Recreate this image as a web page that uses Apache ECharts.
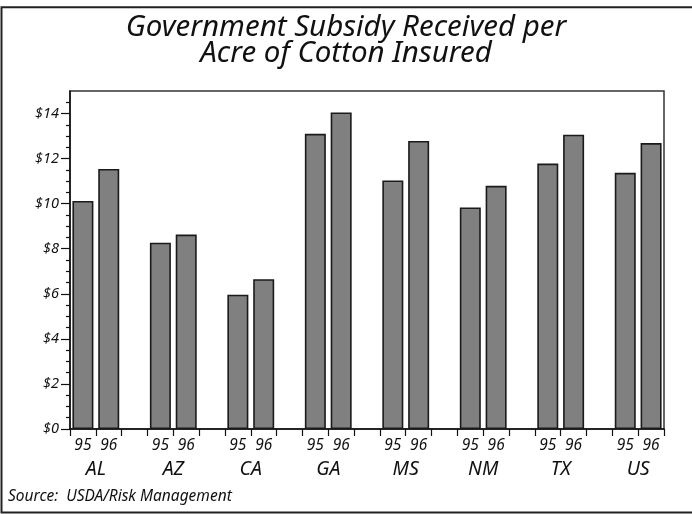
<!DOCTYPE html>
<html>
<head>
<meta charset="utf-8">
<title>Government Subsidy Received per Acre of Cotton Insured</title>
<script src="https://cdn.jsdelivr.net/npm/echarts@6/dist/echarts.min.js"></script>
<style>
  html, body { margin: 0; padding: 0; background: #fff; }
  #chart { width: 692px; height: 514px; }
</style>
</head>
<body>
<div id="chart"></div>
<script>
// States shown, with the subsidy per insured acre (dollars) for each crop year
const states = ['AL', 'AZ', 'CA', 'GA', 'MS', 'NM', 'TX', 'US'];
const years = ['95', '96'];
const subsidy95 = [10.12, 8.27, 5.96, 13.1, 11.03, 9.83, 11.78, 11.37];
const subsidy96 = [11.54, 8.63, 6.65, 14.05, 12.78, 10.79, 13.06, 12.69];
const yTickLabels = [0, 2, 4, 6, 8, 10, 12, 14];

const FONT = "'Noto Sans', sans-serif";
const INK = '#111';

// One category slot per bar, with an empty slot between states
const slots = [];
const values = [];
states.forEach((s, i) => {
  slots.push(years[0]); values.push(subsidy95[i]);
  slots.push(years[1]); values.push(subsidy96[i]);
  if (i < states.length - 1) { slots.push(''); values.push('-'); }
});

// State names sit under the boundary between the two bars of each pair
const statePositions = states.map((s, i) => i * 3 + 1);

// Half-dollar minor ticks (the even-dollar ones are drawn longer by the labelled axis)
const minorTickValues = [];
for (let v = 0.5; v < 15; v += 0.5) {
  if (v % 2 !== 0) minorTickValues.push(v);
}

const chart = echarts.init(document.getElementById('chart'));
chart.setOption({
  animation: false,
  backgroundColor: '#fff',
  title: {
    text: 'Government Subsidy Received per\nAcre of Cotton Insured',
    left: 'center',
    top: 10,
    textStyle: {
      fontFamily: FONT, fontStyle: 'italic', fontWeight: 'normal',
      fontSize: 29.5, lineHeight: 26, color: INK
    }
  },
  grid: {
    left: 70, right: 28, top: 91, bottom: 85,
    show: true, borderColor: '#333', borderWidth: 1.5, backgroundColor: 'transparent'
  },
  xAxis: [
    {
      type: 'category',
      data: slots,
      boundaryGap: true,
      axisLine: { lineStyle: { color: INK, width: 1.5 } },
      axisTick: { show: true, interval: 0, alignWithLabel: false, length: 7, lineStyle: { color: INK, width: 1.2 } },
      axisLabel: {
        interval: 0, margin: 9, color: INK,
        fontFamily: FONT, fontStyle: 'italic', fontSize: 15.5
      },
      splitLine: { show: false }
    },
    {
      type: 'value',
      position: 'bottom',
      min: 0, max: 23,
      axisLine: { show: false },
      axisTick: { show: false },
      splitLine: { show: false },
      axisLabel: {
        customValues: statePositions,
        margin: 30, color: INK,
        fontFamily: FONT, fontStyle: 'italic', fontSize: 19.5,
        formatter: v => states[(v - 1) / 3] || ''
      }
    }
  ],
  yAxis: [
    {
      type: 'value',
      min: 0, max: 15,
      position: 'left',
      axisLine: { show: true, lineStyle: { color: INK, width: 1.5 } },
      axisTick: { show: true, customValues: yTickLabels, length: 9, lineStyle: { color: INK, width: 1.2 } },
      axisLabel: {
        customValues: yTickLabels,
        margin: 11, color: INK,
        fontFamily: FONT, fontStyle: 'italic', fontSize: 14.5,
        formatter: v => '$' + v
      },
      splitLine: { show: false }
    },
    {
      type: 'value',
      min: 0, max: 15,
      position: 'left',
      axisLine: { show: false },
      axisTick: { show: true, customValues: minorTickValues, length: 4, lineStyle: { color: INK, width: 1.2 } },
      axisLabel: { show: false },
      splitLine: { show: false }
    }
  ],
  series: [
    {
      type: 'bar',
      xAxisIndex: 0,
      yAxisIndex: 0,
      data: values,
      barWidth: 21,
      itemStyle: { color: '#808080', borderColor: '#1a1a1a', borderWidth: 1.6 }
    }
  ],
  graphic: [
    {
      type: 'rect',
      shape: { x: 1.5, y: 7.2, width: 700, height: 505.3 },
      style: { fill: 'none', stroke: '#222', lineWidth: 2 },
      silent: true
    },
    {
      type: 'text',
      left: 8,
      top: 489,
      style: {
        text: 'Source:  USDA/Risk Management',
        fill: INK,
        font: 'italic 15.5px ' + FONT
      }
    }
  ]
});
</script>
</body>
</html>
